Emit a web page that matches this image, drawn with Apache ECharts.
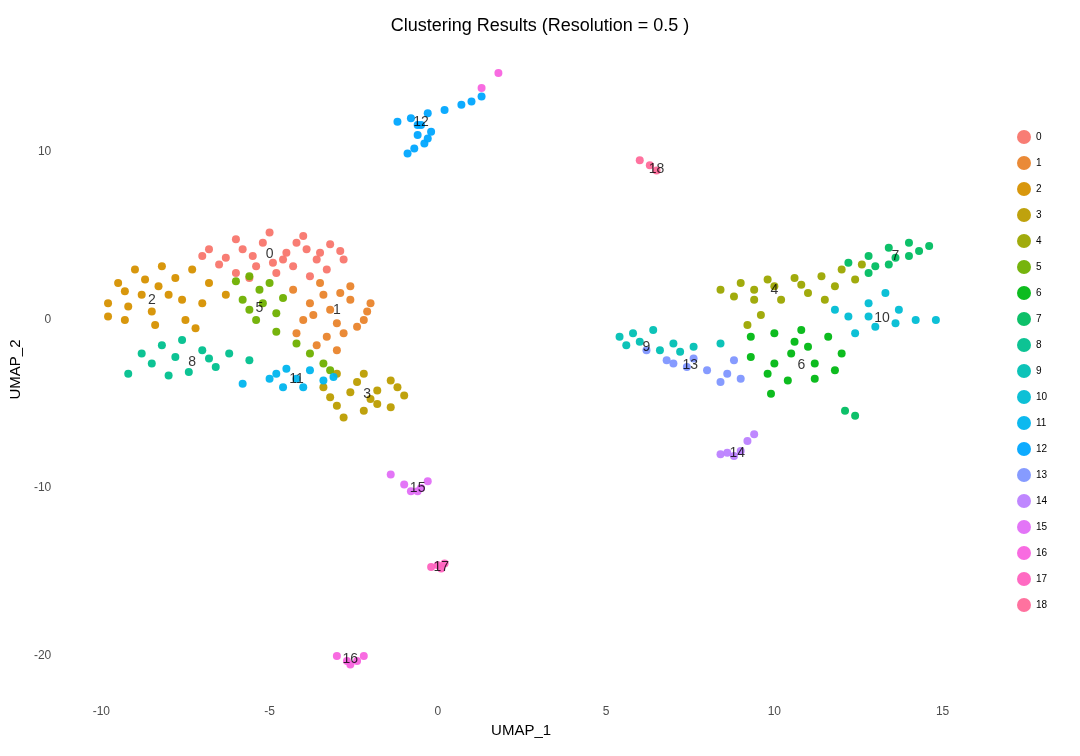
<!DOCTYPE html>
<html>
<head>
<meta charset="utf-8">
<script src="https://cdn.jsdelivr.net/npm/echarts@6/dist/echarts.min.js"></script>
<style>html,body{margin:0;padding:0;background:#fff}#main{width:1080px;height:756px}</style>
</head>
<body>
<div id="main"></div>
<script>
// cluster names and ggplot hue colours
const clusters = ['0','1','2','3','4','5','6','7','8','9','10','11','12','13','14','15','16','17','18'];
const colors = ['#F8766D','#E9842C','#D69100','#BC9D00','#9CA700','#6FB000','#00B813','#00BD61','#00C08E','#00C0B4',
  '#00BDD4','#00B5EE','#00A7FF','#7F96FF','#BC81FF','#E26EF7','#F863DF','#FF62BF','#FF6A9A'];
// points, one list per cluster
const pts = [
  [[-6.8,4.2],[-6,4.8],[-5,5.2],[-4,5],[-3.2,4.5],[-2.8,3.6],[-6.5,3.3],[-5.5,3.8],[-4.5,4],[-3.6,3.6],[-6,2.8],[-4.8,2.8],[-3.8,2.6],[-7,3.8],[-5.2,4.6],[-4.2,4.6],[-3.3,3],[-5.8,4.2],[-4.9,3.4],[-6.3,3.7],[-3.9,4.2],[-2.9,4.1],[-4.3,3.2],[-5.6,2.5],[-5.4,3.2],[-4.6,3.6],[-3.5,4]],
  [[-4.3,1.8],[-3.5,2.2],[-2.6,2],[-2,1],[-2.2,0],[-2.8,-0.8],[-3.6,-1.5],[-4,0],[-3.2,0.6],[-2.6,1.2],[-3.8,1],[-3,-1.8],[-2.4,-0.4],[-4.2,-0.8],[-3.4,1.5],[-3,-0.2],[-2.1,0.5],[-3.7,0.3],[-2.9,1.6],[-3.3,-1]],
  [[-9.8,1],[-9.5,2.2],[-9,3],[-8.2,3.2],[-7.3,3],[-6.8,2.2],[-7,1],[-7.5,0],[-8.4,-0.3],[-9.3,0],[-8.8,1.5],[-8,1.5],[-7.8,2.5],[-9.2,0.8],[-8.5,0.5],[-7.2,-0.5],[-6.3,1.5],[-8.7,2.4],[-7.6,1.2],[-9.8,0.2],[-8.3,2],[-9.3,1.7]],
  [[-3.4,-4],[-3,-3.2],[-2.2,-3.2],[-1.4,-3.6],[-1,-4.5],[-1.4,-5.2],[-2.2,-5.4],[-3,-5.1],[-2.6,-4.3],[-1.8,-4.2],[-2.4,-3.7],[-3.2,-4.6],[-1.8,-5],[-2.8,-5.8],[-1.2,-4],[-2,-4.7]],
  [[8.4,1.8],[9,2.2],[9.8,2.4],[10.6,2.5],[11.4,2.6],[12,3],[12.6,3.3],[11.8,2],[11,1.6],[10.2,1.2],[9.4,1.2],[8.8,1.4],[9.6,0.3],[9.2,-0.3],[10,2],[10.8,2.1],[11.5,1.2],[12.4,2.4],[9.4,1.8]],
  [[-6,2.3],[-5.6,2.6],[-5,2.2],[-5.8,1.2],[-5.2,1],[-4.8,0.4],[-5.4,0],[-4.8,-0.7],[-4.2,-1.4],[-3.8,-2],[-3.4,-2.6],[-5.6,0.6],[-4.6,1.3],[-3.2,-3],[-5.3,1.8]],
  [[9.3,-1],[10,-0.8],[10.8,-0.6],[11.6,-1],[12,-2],[11.8,-3],[11.2,-3.5],[10.4,-3.6],[9.8,-3.2],[9.3,-2.2],[10.5,-2],[11,-1.6],[10,-2.6],[11.2,-2.6],[9.9,-4.4],[10.6,-1.3]],
  [[12.2,3.4],[12.8,3.8],[13.4,4.3],[14,4.6],[14.6,4.4],[14,3.8],[13.4,3.3],[12.8,2.8],[13.6,3.7],[14.3,4.1],[13,3.2],[12.1,-5.4],[12.4,-5.7]],
  [[-9.2,-3.2],[-8.5,-2.6],[-8.2,-1.5],[-7.6,-1.2],[-7,-1.8],[-6.2,-2],[-5.6,-2.4],[-6.6,-2.8],[-7.4,-3.1],[-8,-3.3],[-7.8,-2.2],[-6.8,-2.3],[-8.8,-2]],
  [[5.4,-1],[5.8,-0.8],[6.4,-0.6],[7,-1.4],[7.6,-1.6],[8.4,-1.4],[5.6,-1.5],[6.6,-1.8],[7.2,-1.9],[6,-1.3]],
  [[12.2,0.2],[12.8,1],[13.3,1.6],[13.7,0.6],[14.2,0],[14.8,0],[13,-0.4],[12.4,-0.8],[13.6,-0.2],[12.8,0.2],[11.8,0.6]],
  [[-5,-3.5],[-4.5,-2.9],[-3.8,-3],[-3.4,-3.6],[-4,-4],[-4.6,-4],[-4.2,-3.5],[-5.8,-3.8],[-3.1,-3.4],[-4.8,-3.2]],
  [[-1.2,11.8],[-0.8,12],[-0.5,11.6],[-0.3,12.3],[0.2,12.5],[0.7,12.8],[1.3,13.3],[-0.6,11],[-0.7,10.2],[-0.4,10.5],[-0.2,11.2],[-0.6,11.6],[1,13],[-0.3,10.8],[-0.9,9.9]],
  [[6.2,-1.8],[6.8,-2.4],[7.4,-2.8],[8,-3],[8.6,-3.2],[9,-3.5],[8.8,-2.4],[7.6,-2.3],[7,-2.6],[8.4,-3.7]],
  [[8.4,-8],[8.8,-8.1],[9,-7.8],[9.2,-7.2],[9.4,-6.8],[8.6,-7.9]],
  [[-1.4,-9.2],[-1,-9.8],[-0.8,-10.2],[-0.5,-10],[-0.3,-9.6],[-0.6,-10.2]],
  [[-3,-20],[-2.7,-20.3],[-2.4,-20.3],[-2.2,-20],[-2.6,-20.5],[1.8,14.7],[1.3,13.8]],
  [[-0.2,-14.7],[0,-14.6],[0.2,-14.5],[0.1,-14.8]],
  [[6,9.5],[6.3,9.2],[6.5,8.9]]
];
// label positions (cluster centres)
const centres = [[-5,3.9],[-3,0.6],[-8.5,1.2],[-2.1,-4.4],[10,1.8],[-5.3,0.7],[10.8,-2.7],[13.6,3.8],[-7.3,-2.5],[6.2,-1.6],
  [13.2,0.1],[-4.2,-3.5],[-0.5,11.8],[7.5,-2.7],[8.9,-7.9],[-0.6,-10],[-2.6,-20.2],[0.1,-14.7],[6.5,9]];
const xTicks = [-10,-5,0,5,10,15];
const yTicks = [-20,-10,0,10];

const chart = echarts.init(document.getElementById('main'));
let series = clusters.map((c, i) => ({
  name: c, type: 'scatter', data: pts[i], symbolSize: 8,
  itemStyle: {color: colors[i], opacity: 0.95}
}));
series.push({
  type: 'scatter', symbolSize: 0, silent: true,
  data: centres.map((p, i) => ({value: p, name: clusters[i]})),
  label: {show: true, formatter: '{b}', color: '#000', fontSize: 14, position: 'inside'}
});
chart.setOption({
  backgroundColor: '#fff',
  textStyle: {fontFamily: 'Liberation Sans'},
  title: {text: 'Clustering Results (Resolution = 0.5 )', left: 'center', top: 12,
    textStyle: {fontSize: 18, fontWeight: 'normal', color: '#000'}},
  legend: {data: clusters, orient: 'vertical', left: 1012, top: 125, itemGap: 12,
    icon: 'circle', itemWidth: 14, itemHeight: 14, textStyle: {fontSize: 10, color: '#000'}},
  grid: {left: 56, right: 97, top: 41, bottom: 58},
  xAxis: {type: 'value', min: -11.25, max: 16.2, name: 'UMAP_1', nameLocation: 'middle', nameGap: 24,
    nameTextStyle: {fontSize: 15, color: '#000'},
    axisLine: {show: false}, axisTick: {show: false}, splitLine: {show: false},
    axisLabel: {color: '#4d4d4d', fontSize: 12, customValues: xTicks}},
  yAxis: {type: 'value', min: -22.5, max: 16.6, name: 'UMAP_2', nameLocation: 'middle', nameGap: 30,
    nameTextStyle: {fontSize: 15, color: '#000'},
    axisLine: {show: false}, axisTick: {show: false}, splitLine: {show: false},
    axisLabel: {color: '#4d4d4d', fontSize: 12, customValues: yTicks}},
  series: series
});
</script>
</body>
</html>
